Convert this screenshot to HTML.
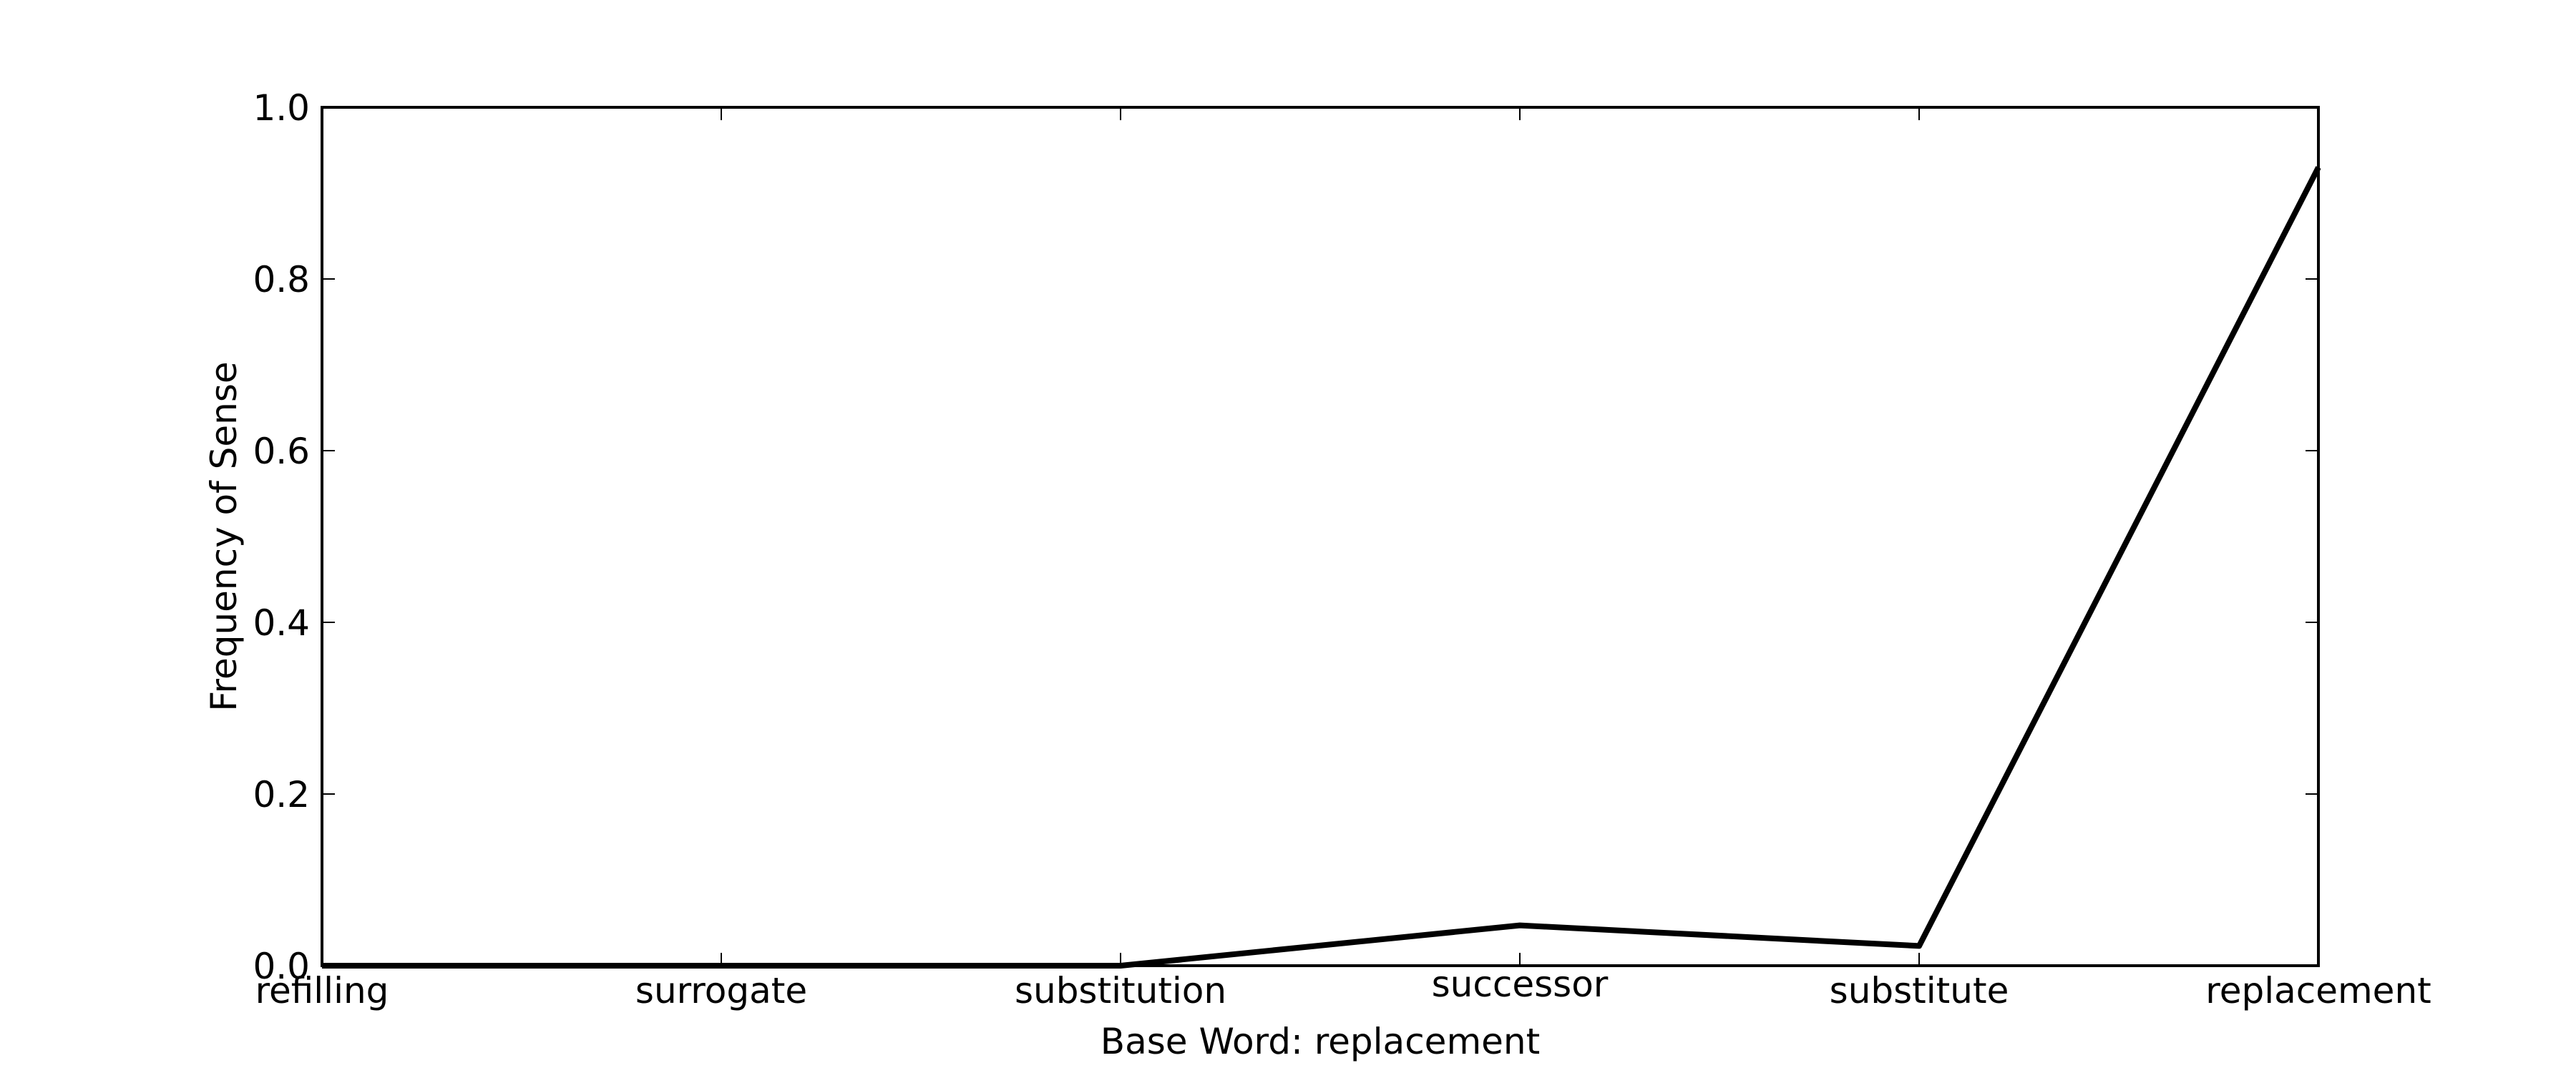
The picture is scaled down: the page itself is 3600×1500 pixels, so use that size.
<!DOCTYPE html>
<html><head><meta charset="utf-8"><style>
html,body{margin:0;padding:0;background:#fff;}
svg{display:block;font-family:"DejaVu Sans","Liberation Sans",sans-serif;}
</style></head><body>
<svg id="chart" width="3600" height="1500" viewBox="0 0 3600 1500">
<rect x="0" y="0" width="3600" height="1500" fill="#fff"/>
<g id="plot"></g>
</svg>
<script>
const categories = ["refilling","surrogate","substitution","successor","substitute","replacement"];
const values = [0, 0, 0, 0.047, 0.023, 0.93];
const yTicks = [0, 0.2, 0.4, 0.6, 0.8, 1.0];
const yTickLabels = ["0.0","0.2","0.4","0.6","0.8","1.0"];

const L=450,R=3240,T=150,B=1350;
const NS="http://www.w3.org/2000/svg";
const g=document.getElementById('plot');
function xs(i){return L+(R-L)*i/(categories.length-1);}
function ys(v){return B-(B-T)*v;}
function mk(tag,attrs,parent){const e=document.createElementNS(NS,tag);for(const k in attrs)e.setAttribute(k,attrs[k]);(parent||g).appendChild(e);return e;}

const pts=values.map((v,i)=>xs(i)+","+ys(v)).join(" ");
const line=mk('polyline',{points:pts,fill:'none',stroke:'#000','stroke-width':8,'stroke-linejoin':'round'});



yTicks.forEach((t,i)=>{
  const y=ys(t);
  const a=mk('line',{x1:L,x2:L+18,y1:y,y2:y,stroke:'#000','stroke-width':2});
  
  
  const b=mk('line',{x1:R-18,x2:R,y1:y,y2:y,stroke:'#000','stroke-width':2});
  
  
  const tx=mk('text',{x:433,y:y+18,'text-anchor':'end','font-size':50,fill:'#000'});
  tx.textContent=yTickLabels[i];
  
  
});
categories.forEach((c,i)=>{
  const x=xs(i);
  const a=mk('line',{x1:x,x2:x,y1:B,y2:B-18,stroke:'#000','stroke-width':2});
  
  
  const b=mk('line',{x1:x,x2:x,y1:T,y2:T+18,stroke:'#000','stroke-width':2});
  
  
  const tx=mk('text',{x:x,y:(c==="successor"?1393:1402),'text-anchor':'middle','font-size':50,fill:'#000'});
  tx.textContent=c;
  
  
});

const fr=mk('rect',{x:L,y:T,width:R-L,height:B-T,fill:'none',stroke:'#000','stroke-width':4});



const xl=mk('text',{x:(L+R)/2,y:1473,'text-anchor':'middle','font-size':50,fill:'#000'});
xl.textContent="Base Word: replacement";



const yl=mk('text',{x:0,y:0,'text-anchor':'middle','font-size':50,fill:'#000',transform:'translate(330,750) rotate(-90)'});
yl.textContent="Frequency of Sense";


</script>
</body></html>
